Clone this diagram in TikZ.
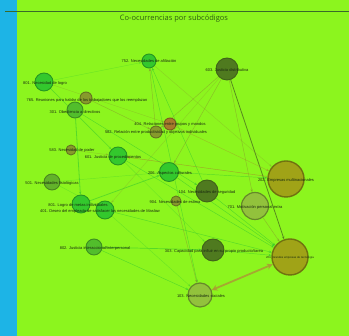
\documentclass[tikz,border=0pt]{standalone}
\usepackage{fontspec}
\setmainfont{Liberation Sans}
\newfontfamily\titlefont{Open Sans}
\usepackage{xcolor}
\usepackage{tikz}
\usetikzlibrary{arrows.meta}
\definecolor{bgl}{HTML}{8CF51E}
\definecolor{cbl}{HTML}{1DB4E6}
\definecolor{cln}{HTML}{3A6A2A}
\definecolor{ctit}{HTML}{2E5E12}
\definecolor{ctx}{HTML}{1A2A10}
\definecolor{cgr}{HTML}{33C82D}
\definecolor{cmg}{HTML}{52BE2C}
\definecolor{cog}{HTML}{62B22A}
\definecolor{col}{HTML}{879A2C}
\definecolor{cbr}{HTML}{A77A2C}
\definecolor{cdk}{HTML}{4F7A1F}
\definecolor{cye}{HTML}{A0A317}
\definecolor{clo}{HTML}{92C23C}
\definecolor{carr}{HTML}{A9A033}
\pgfdeclarelayer{bg}
\pgfdeclarelayer{edges}
\pgfsetlayers{bg,edges,main}

\begin{document}
\begin{tikzpicture}[x=1pt,y=-1pt]
\tikzstyle{nd}=[circle,inner sep=0pt,line width=0.9pt]
\tikzstyle{ngr}=[nd,fill=cgr,draw=cgr!75!black]
\tikzstyle{nmg}=[nd,fill=cmg,draw=cmg!75!black]
\tikzstyle{nog}=[nd,fill=cog,draw=cog!75!black]
\tikzstyle{nol}=[nd,fill=col,draw=col!75!black]
\tikzstyle{nbr}=[nd,fill=cbr,draw=cbr!75!black]
\tikzstyle{ndk}=[nd,fill=cdk,draw=cdk!80!black]
\tikzstyle{nye}=[nd,fill=cye,draw=cye!70!black,line width=1.4pt]
\tikzstyle{nlo}=[nd,fill=clo,draw=clo!70!black,line width=1.2pt]
\tikzstyle{lb}=[inner sep=0pt,font=\fontsize{4}{4}\selectfont,text=ctx]
\tikzstyle{ed}=[line width=0.45pt,opacity=0.6,-{Stealth[length=3pt,width=2.4pt]}]
%
\useasboundingbox (0,0) rectangle (349,336);
\begin{pgfonlayer}{bg}
\fill[bgl] (0,0) rectangle (349,336);
\fill[cbl] (0,0) rectangle (17,336);
\end{pgfonlayer}
\coordinate (ll) at (5,11);
\coordinate (lr) at (349,11);
\draw[cln,line width=0.6pt] (ll) -- (lr);
\node[font=\titlefont\fontsize{7.5}{8}\selectfont,text=ctit](title) at (174,19){Co-ocurrencias por subcódigos};
%
\node[ngr,minimum size=14pt](n752) at (149,61){};
\node[ndk,minimum size=22pt](n603) at (227,69){};
\node[ngr,minimum size=18pt](n801) at (44,82){};
\node[nol,minimum size=12pt](n765) at (86,98){};
\node[nmg,minimum size=16pt](n301) at (75,110){};
\node[nbr,minimum size=12pt](n404) at (170,124){};
\node[nol,minimum size=12pt](n582) at (156,132){};
\node[nol,minimum size=10pt](n583) at (71,150){};
\node[ngr,minimum size=18pt](n601) at (118,156){};
\node[ngr,minimum size=19pt](n206) at (169,172){};
\node[nog,minimum size=16pt](n501) at (52,182){};
\node[ndk,minimum size=22pt](n104) at (207,191){};
\node[nol,minimum size=10pt](n904) at (176,201){};
\node[nye,minimum size=36pt](n202) at (286,179){};
\node[nlo,minimum size=27pt](n701) at (255,206){};
\node[ngr,minimum size=18pt](n801b) at (81,204){};
\node[ngr,minimum size=18pt](n401) at (105,210){};
\node[nmg,minimum size=16pt](n802) at (94,247){};
\node[ndk,minimum size=22pt](n303) at (213,250){};
\node[nye,minimum size=36pt](n204) at (290,257){};
\node[nlo,minimum size=24pt](n103) at (200,295){};
%
\node[lb](t752) at (149,61){752. Necesidades de afiliación};
\node[lb](t603) at (227,70){603. Justicia distributiva};
\node[lb](t801) at (45,83){801. Necesidad de logro};
\node[lb](t765) at (87,100){765. Reuniones para hablar de los trabajadores que los reemplazan};
\node[lb](t301) at (75,112){301. Obediencia a directivos};
\node[lb](t404) at (170,124){404. Relaciones entre grupos y mandos};
\node[lb](t582) at (156,132){582. Relación entre productividad y objetivos individuales};
\node[lb](t583) at (72,150){583. Necesidad de poder};
\node[lb](t601) at (113,157){601. Justicia de procedimientos};
\node[lb](t206) at (170,173){206. Aspectos culturales};
\node[lb](t501) at (52,183){501. Necesidades fisiológicas};
\node[lb](t104) at (207,192){104. Necesidades de seguridad};
\node[lb](t904) at (175,202){904. Necesidades de estima};
\node[lb](t202) at (286,180){202. Empresas multinacionales};
\node[lb](t701) at (255,207){701. Motivación personal extra};
\node[lb](t801b) at (78,205){801. Logro de metas individuales};
\node[lb](t401) at (100,211){401. Deseo del empleado de satisfacer las necesidades de Maslow};
\node[lb](t802) at (95,248){802. Justicia interaccional/interpersonal};
\node[lb](t303) at (214,251){303. Capacidad para influir en su propio producto/tarea};
\node[lb,font=\fontsize{2.8}{3}\selectfont](t204) at (290,258){204. Grandes empresas de tecnología};
\node[lb](t103) at (201,296){103. Necesidades sociales};
%
\begin{pgfonlayer}{edges}
\draw[ed,cdk,line width=0.8pt,opacity=0.85] (n603) -- (n204);
\draw[carr,line width=1.8pt,opacity=0.9,{Stealth[length=6pt,width=6pt]}-{Stealth[length=6pt,width=6pt]}] (n103) -- (n204);
\draw[ed,cgr,line width=0.8pt] (n301) -- (n801b);
\draw[ed,cgr,line width=0.7pt] (n801b) -- (n206);
\draw[ed,cgr] (n206) -- (n202);
\draw[ed,cbr] (n202) -- (n601);
\draw[ed,col] (n582) -- (n752);
\draw[ed,cgr] (n104) -- (n752);
\draw[ed,col] (n603) -- (n582);
\draw[ed,col] (n603) -- (n206);
\draw[ed,col] (n603) -- (n701);
\draw[ed,col,opacity=0.35] (n603) -- (n401);
\draw[ed,cgr,line width=0.7pt] (n802) -- (n303);
\draw[ed,cgr] (n802) -- (n103);
\draw[ed,cgr] (n303) -- (n204);
\draw[ed,cgr] (n104) -- (n204);
\draw[ed,cgr] (n601) -- (n204);
\draw[ed,cgr] (n401) -- (n204);
\draw[ed,cgr,opacity=0.35] (n801) -- (n601);
\draw[ed,col,opacity=0.4] (n801) -- (n404);
\draw[ed,cgr] (n301) -- (n104);
\draw[ed,cgr,opacity=0.35] (n501) -- (n206);
\draw[ed,col] (n765) -- (n582);
\draw[ed,cgr] (n752) -- (n103);
\draw[ed,col] (n904) -- (n103);
\draw[ed,cgr,opacity=0.35] (n401) -- (n103);
\draw[ed,col] (n701) -- (n204);
\draw[ed,cgr] (n206) -- (n204);
\draw[ed,col,opacity=0.4] (n583) -- (n601);
\draw[ed,cbr,opacity=0.4] (n404) -- (n202);
\draw[ed,col,opacity=0.35] (n752) -- (n202);
\draw[ed,cgr,opacity=0.35] (n801) -- (n303);
\draw[ed,cgr,opacity=0.35] (n501) -- (n401);
\draw[ed,cgr,opacity=0.35] (n801) -- (n752);
\end{pgfonlayer}
\end{tikzpicture}
\end{document}
